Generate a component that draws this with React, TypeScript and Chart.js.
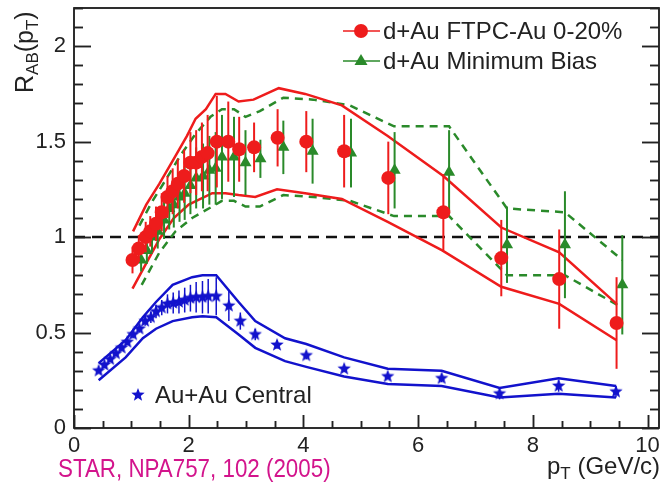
import React, { useEffect, useRef } from 'react';
import { Chart, registerables } from 'chart.js';

Chart.register(...registerables);

// ---- data ----
const ftpcPt = [1.02, 1.13, 1.25, 1.33, 1.43, 1.53, 1.63, 1.72, 1.81, 1.92, 2.03, 2.13, 2.23, 2.33, 2.49, 2.69, 2.88, 3.14, 3.55, 4.05, 4.71, 5.48, 6.44, 7.45, 8.46, 9.46];
const ftpcR = [0.88, 0.94, 1.0, 1.03, 1.07, 1.13, 1.21, 1.24, 1.28, 1.32, 1.39, 1.39, 1.42, 1.44, 1.5, 1.5, 1.46, 1.47, 1.52, 1.5, 1.45, 1.31, 1.13, 0.89, 0.78, 0.55];
const ftpcErr = [0.07, 0.07, 0.08, 0.08, 0.09, 0.1, 0.11, 0.12, 0.13, 0.14, 0.16, 0.17, 0.18, 0.2, 0.24, 0.21, 0.17, 0.13, 0.15, 0.16, 0.19, 0.19, 0.2, 0.2, 0.26, 0.24];

const mbPt = [1.17, 1.27, 1.36, 1.46, 1.57, 1.66, 1.74, 1.84, 1.93, 2.03, 2.13, 2.25, 2.36, 2.47, 2.58, 2.79, 2.99, 3.25, 3.65, 4.16, 4.83, 5.59, 6.54, 7.55, 8.56, 9.56];
const mbR = [0.88, 0.93, 1.0, 1.03, 1.09, 1.15, 1.17, 1.21, 1.23, 1.27, 1.31, 1.32, 1.35, 1.36, 1.42, 1.42, 1.39, 1.41, 1.47, 1.45, 1.44, 1.35, 1.34, 0.96, 0.96, 0.75];
const mbErr = [0.06, 0.07, 0.08, 0.09, 0.1, 0.11, 0.12, 0.13, 0.14, 0.15, 0.16, 0.17, 0.18, 0.19, 0.22, 0.21, 0.17, 0.1, 0.14, 0.17, 0.18, 0.2, 0.22, 0.2, 0.28, 0.26];

const auPt = [0.43, 0.53, 0.63, 0.73, 0.83, 0.93, 1.03, 1.14, 1.24, 1.34, 1.43, 1.53, 1.63, 1.73, 1.83, 1.93, 2.03, 2.13, 2.24, 2.34, 2.48, 2.7, 2.9, 3.16, 3.54, 4.05, 4.71, 5.47, 6.41, 7.42, 8.45, 9.45];
const auR = [0.3, 0.33, 0.36, 0.39, 0.42, 0.45, 0.49, 0.52, 0.56, 0.58, 0.61, 0.63, 0.65, 0.655, 0.66, 0.67, 0.68, 0.685, 0.685, 0.69, 0.69, 0.64, 0.56, 0.49, 0.435, 0.38, 0.31, 0.27, 0.26, 0.18, 0.22, 0.19];
const auErr = [0.01, 0.01, 0.01, 0.01, 0.015, 0.015, 0.02, 0.02, 0.025, 0.03, 0.035, 0.04, 0.05, 0.055, 0.06, 0.065, 0.07, 0.08, 0.085, 0.09, 0.1, 0.08, 0.045, 0.03, 0.02, 0.02, 0.015, 0.01, 0.02, 0.03, 0.03, 0.03];

// systematic bands
const ftpcHiPt = [1.03, 1.26, 1.49, 1.74, 1.97, 2.12, 2.3, 2.47, 2.64, 2.87, 3.13, 3.57, 4.03, 4.67, 5.47, 6.44, 7.45, 8.46, 9.46];
const ftpcHi = [1.03, 1.17, 1.28, 1.41, 1.53, 1.62, 1.67, 1.75, 1.75, 1.71, 1.72, 1.78, 1.75, 1.69, 1.53, 1.32, 1.05, 0.92, 0.65];
const ftpcLoPt = [1.02, 1.49, 1.74, 2.0, 2.41, 2.64, 2.87, 3.16, 3.54, 4.03, 4.67, 5.47, 6.42, 7.45, 8.46, 9.46];
const ftpcLo = [0.73, 0.99, 1.1, 1.17, 1.23, 1.23, 1.22, 1.21, 1.25, 1.23, 1.2, 1.08, 0.93, 0.74, 0.65, 0.46];

const mbHiPt = [1.14, 1.37, 1.6, 1.86, 2.12, 2.38, 2.58, 2.79, 2.99, 3.24, 3.65, 4.17, 4.81, 5.58, 6.54, 7.55, 8.56, 9.56];
const mbHi = [1.06, 1.19, 1.3, 1.43, 1.54, 1.63, 1.67, 1.67, 1.63, 1.66, 1.73, 1.72, 1.69, 1.58, 1.58, 1.15, 1.13, 0.88];
const mbLoPt = [1.18, 1.49, 1.77, 2.06, 2.41, 2.58, 2.79, 2.99, 3.24, 3.65, 4.17, 4.81, 5.58, 6.54, 7.55, 8.56, 9.56];
const mbLo = [0.75, 0.92, 1.03, 1.1, 1.16, 1.19, 1.19, 1.16, 1.16, 1.22, 1.21, 1.19, 1.11, 1.11, 0.8, 0.8, 0.63];

const auBandPt = [0.43, 0.9, 1.2, 1.43, 1.72, 2.06, 2.24, 2.48, 2.87, 3.16, 3.68, 4.05, 4.71, 5.47, 6.41, 7.42, 8.45, 9.45];
const auHi = [0.34, 0.46, 0.58, 0.66, 0.75, 0.79, 0.8, 0.8, 0.66, 0.56, 0.47, 0.44, 0.37, 0.31, 0.3, 0.21, 0.26, 0.22];
const auLo = [0.25, 0.37, 0.47, 0.52, 0.56, 0.58, 0.585, 0.58, 0.49, 0.42, 0.35, 0.32, 0.27, 0.23, 0.22, 0.16, 0.18, 0.16];

const refPt = [0, 10.2];
const refR = [1, 1];

const xTicks = [0, 2, 4, 6, 8, 10];
const xTickLabels = ['0', '2', '4', '6', '8', '10'];
const yTicks = [0, 0.5, 1, 1.5, 2];
const yTickLabels = ['0', '0.5', '1', '1.5', '2'];

const labels = ['d+Au FTPC-Au 0-20%', 'd+Au Minimum Bias', 'Au+Au Central'];
const citation = 'STAR, NPA757, 102 (2005)';

// ---- styles ----
const FONT = '"Liberation Sans", Arial, Helvetica, sans-serif';
const RED = '#ee1c1c';
const GREEN = '#2a8a2a';
const BLUE = '#1212cc';
const MAGENTA = '#d3148c';
const INK = '#222222';

const xy = (xs: number[], ys: number[]) => xs.map((x, i) => ({ x, y: ys[i] }));

function makeStar(r: number, color: string) {
  const c = document.createElement('canvas');
  const s = Math.ceil(r * 2 + 2);
  c.width = s;
  c.height = s;
  const g = c.getContext('2d')!;
  g.fillStyle = color;
  g.beginPath();
  for (let k = 0; k < 10; k++) {
    const rr = k % 2 === 0 ? r : r * 0.42;
    const a = -Math.PI / 2 + (k * Math.PI) / 5;
    const px = s / 2 + rr * Math.cos(a);
    const py = s / 2 + rr * Math.sin(a);
    if (k === 0) g.moveTo(px, py);
    else g.lineTo(px, py);
  }
  g.closePath();
  g.fill();
  return c;
}

function zeroPad(s: any) {
  s.paddingTop = 0;
  s.paddingBottom = 0;
  s.paddingLeft = 0;
  s.paddingRight = 0;
}

function drawFrame(chart: any) {
  const ctx: CanvasRenderingContext2D = chart.ctx;
  const ca = chart.chartArea;
  const L = ca.left;
  const R = ca.right;
  const T = ca.top;
  const B = ca.bottom;
  const sx = chart.scales.x;
  const sy = chart.scales.y;
  ctx.save();
  ctx.setLineDash([]);
  ctx.globalAlpha = 1;
  ctx.strokeStyle = INK;
  ctx.lineWidth = 1.5;
  ctx.beginPath();
  ctx.rect(L, T, R - L, B - T);
  ctx.stroke();
  ctx.beginPath();
  for (let k = 0; k <= 22; k++) {
    const py = Math.round(sy.getPixelForValue(k / 10)) + 0.5;
    const len = k % 5 === 0 ? 17 : 9;
    ctx.moveTo(L, py);
    ctx.lineTo(L + len, py);
    ctx.moveTo(R, py);
    ctx.lineTo(R - len, py);
  }
  for (let k = 0; k <= 20; k++) {
    const px = Math.round(sx.getPixelForValue(k / 2)) + 0.5;
    const len = k % 4 === 0 ? 13 : 7;
    ctx.moveTo(px, B);
    ctx.lineTo(px, B - len);
  }
  ctx.stroke();
  ctx.restore();
}

const decorPlugin = {
  id: 'decor',
  beforeDatasetDraw(chart: any, args: any) {
    const ds = chart.data.datasets[args.index];
    if (!ds.errY) return;
    const { ctx } = chart;
    const x = chart.scales.x;
    const y = chart.scales.y;
    ctx.save();
    ctx.setLineDash([]);
    ctx.strokeStyle = ds.errColor;
    ctx.lineWidth = ds.errWidth;
    ds.data.forEach((p: any, i: number) => {
      const px = x.getPixelForValue(p.x);
      ctx.beginPath();
      ctx.moveTo(px, y.getPixelForValue(p.y - ds.errY[i]));
      ctx.lineTo(px, y.getPixelForValue(p.y + ds.errY[i]));
      ctx.stroke();
    });
    ctx.restore();
  },
  afterDatasetsDraw(chart: any) {
    drawFrame(chart);
  },
  afterDraw(chart: any) {
    const ctx: CanvasRenderingContext2D = chart.ctx;
    drawFrame(chart);
    ctx.save();
    ctx.setLineDash([]);

    // legend
    ctx.textBaseline = 'middle';
    ctx.font = `24px ${FONT}`;
    // red
    ctx.strokeStyle = RED;
    ctx.lineWidth = 1.5;
    ctx.beginPath();
    ctx.moveTo(343, 31);
    ctx.lineTo(380, 31);
    ctx.stroke();
    ctx.fillStyle = RED;
    ctx.beginPath();
    ctx.arc(361, 31, 7, 0, Math.PI * 2);
    ctx.fill();
    ctx.fillStyle = INK;
    ctx.fillText(labels[0], 383, 32);
    // green
    ctx.strokeStyle = GREEN;
    ctx.beginPath();
    ctx.moveTo(343, 61);
    ctx.lineTo(380, 61);
    ctx.stroke();
    ctx.fillStyle = GREEN;
    ctx.beginPath();
    ctx.moveTo(361, 54);
    ctx.lineTo(367.5, 65);
    ctx.lineTo(354.5, 65);
    ctx.closePath();
    ctx.fill();
    ctx.fillStyle = INK;
    ctx.fillText(labels[1], 383, 62);
    // blue
    const star = chart.$star;
    if (star) ctx.drawImage(star, 138 - star.width / 2, 395 - star.height / 2);
    ctx.fillStyle = INK;
    ctx.fillText(labels[2], 155, 396);

    // y-axis title  R_AB(p_T)
    const big = `25px ${FONT}`;
    const small = `17px ${FONT}`;
    ctx.save();
    ctx.translate(33, 93);
    ctx.rotate(-Math.PI / 2);
    ctx.textBaseline = 'alphabetic';
    let cx = 0;
    const piece = (t: string, f: string, dy: number) => {
      ctx.font = f;
      ctx.fillText(t, cx, dy);
      cx += ctx.measureText(t).width;
    };
    piece('R', big, 0);
    piece('AB', small, 5);
    piece('(p', big, 0);
    piece('T', small, 5);
    piece(')', big, 0);
    ctx.restore();

    // x-axis title p_T (GeV/c)
    ctx.textBaseline = 'alphabetic';
    ctx.fillStyle = INK;
    cx = 547;
    const bigX = `24px ${FONT}`;
    const pieceX = (t: string, f: string, dy: number) => {
      ctx.font = f;
      ctx.fillText(t, cx, 474 + dy);
      cx += ctx.measureText(t).width;
    };
    pieceX('p', bigX, 0);
    pieceX('T', small, 5);
    pieceX(' (GeV/c)', bigX, 0);

    // citation (slightly condensed, as in the reference)
    ctx.save();
    ctx.fillStyle = MAGENTA;
    ctx.font = `26px ${FONT}`;
    ctx.translate(58, 477);
    ctx.scale(0.86, 1);
    ctx.fillText(citation, 0, 0);
    ctx.restore();
    ctx.restore();
  },
};

export default function App() {
  const ref = useRef<HTMLCanvasElement | null>(null);
  useEffect(() => {
    document.body.style.margin = '0';
    const canvas = ref.current!;
    const star = makeStar(7, BLUE);
    const line = (data: any[], color: string, dash: number[] = []) => ({
      data,
      showLine: true,
      borderColor: color,
      borderWidth: 2.5,
      borderDash: dash,
      pointRadius: 0,
      fill: false,
      tension: 0,
      order: 1,
    });
    const chart: any = new Chart(canvas, {
      type: 'scatter',
      data: {
        datasets: [
          {
            label: labels[0],
            data: xy(ftpcPt, ftpcR),
            pointStyle: 'circle',
            pointRadius: 7,
            backgroundColor: RED,
            borderColor: RED,
            borderWidth: 0,
            order: 0,
            errY: ftpcErr,
            errColor: RED,
            errWidth: 2,
          } as any,
          {
            label: labels[1],
            data: xy(mbPt, mbR),
            pointStyle: 'triangle',
            pointRadius: 7,
            backgroundColor: GREEN,
            borderColor: GREEN,
            borderWidth: 0,
            order: 0,
            errY: mbErr,
            errColor: GREEN,
            errWidth: 2,
          } as any,
          {
            label: labels[2],
            data: xy(auPt, auR),
            pointStyle: star,
            pointRadius: 7,
            backgroundColor: BLUE,
            borderColor: BLUE,
            order: 0,
            errY: auErr,
            errColor: BLUE,
            errWidth: 1.5,
          } as any,
          line(xy(ftpcHiPt, ftpcHi), RED),
          line(xy(ftpcLoPt, ftpcLo), RED),
          line(xy(mbHiPt, mbHi), GREEN, [8, 6]),
          line(xy(mbLoPt, mbLo), GREEN, [8, 6]),
          line(xy(auBandPt, auHi), BLUE),
          line(xy(auBandPt, auLo), BLUE),
          { ...line(xy(refPt, refR), '#111111', [11, 7]), borderWidth: 2.5, order: 2 },
        ],
      },
      options: {
        responsive: false,
        animation: false,
        events: [],
        layout: { padding: { top: 6, right: 4, left: 0, bottom: 0 } },
        plugins: { legend: { display: false }, tooltip: { enabled: false } },
        scales: {
          x: {
            type: 'linear',
            min: 0,
            max: 10.2,
            afterFit: (s: any) => {
              s.height = 57;
              zeroPad(s);
            },
            afterBuildTicks: (s: any) => {
              s.ticks = xTicks.map((v) => ({ value: v }));
            },
            grid: { display: false, drawTicks: false },
            border: { display: false },
            ticks: {
              font: { family: FONT, size: 22 },
              color: INK,
              padding: 5,
              maxRotation: 0,
              autoSkip: false,
              callback: (v: any) => xTickLabels[xTicks.indexOf(Number(v))] ?? '',
            },
          },
          y: {
            type: 'linear',
            min: 0,
            max: 2.2,
            afterFit: (s: any) => {
              s.width = 74;
              zeroPad(s);
            },
            afterBuildTicks: (s: any) => {
              s.ticks = yTicks.map((v) => ({ value: v }));
            },
            grid: { display: false, drawTicks: false },
            border: { display: false },
            ticks: {
              font: { family: FONT, size: 22 },
              color: INK,
              padding: 8,
              autoSkip: false,
              callback: (v: any) => yTickLabels[yTicks.indexOf(Number(v))] ?? '',
            },
          },
        },
      },
      plugins: [decorPlugin],
    } as any);
    chart.$star = star;
    chart.draw();
    return () => chart.destroy();
  }, []);
  return (
    <div style={{ width: 667, height: 485, background: '#ffffff' }}>
      <canvas ref={ref} width={667} height={485} style={{ display: 'block' }} />
    </div>
  );
}
